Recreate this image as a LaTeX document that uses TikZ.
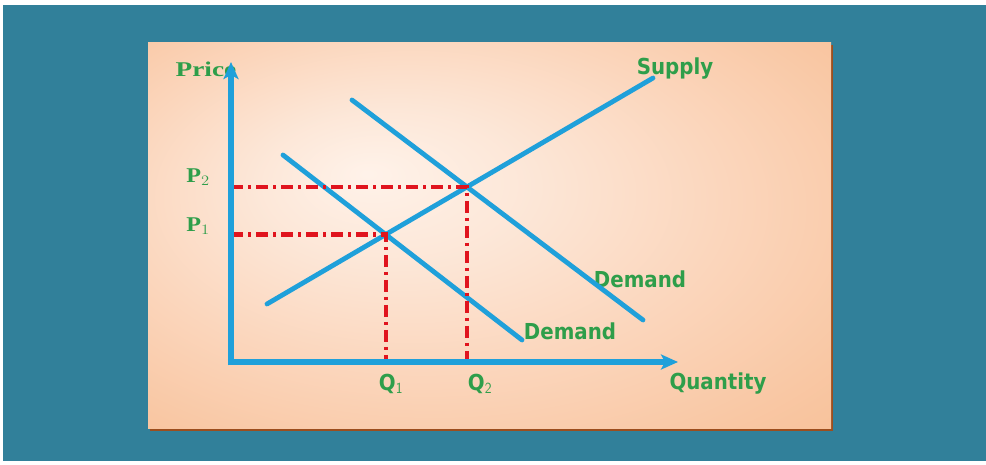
\documentclass[tikz,border=0pt]{standalone}
\usepackage{fontspec}
\usepackage{graphicx}
\usetikzlibrary{arrows.meta,intersections}
\newfontfamily\lblfont{DejaVu Sans}
\newfontfamily\serfont{Liberation Serif}
\definecolor{teal0}{HTML}{31809A}
\definecolor{brown0}{HTML}{9C4E1E}
\definecolor{axisblue}{HTML}{1FA0DA}
\definecolor{lblgreen}{HTML}{2E9E4A}
\definecolor{dashred}{HTML}{E0141E}
\pgfdeclareradialshading{panelshade}{\pgfpoint{-9bp}{8bp}}{%
  rgb(0bp)=(1,0.95,0.915);
  rgb(10bp)=(0.99,0.905,0.845);
  rgb(22bp)=(0.985,0.84,0.74);
  rgb(34bp)=(0.975,0.78,0.64);
  rgb(44bp)=(0.97,0.74,0.57);
  rgb(50bp)=(0.965,0.715,0.52)}
\tikzset{
  lbl/.style={text=lblgreen,font=\lblfont\bfseries\fontsize{22}{24}\selectfont,inner sep=0pt},
  serlbl/.style={text=lblgreen,font=\serfont\bfseries\fontsize{21}{23}\selectfont,inner sep=0pt},
  axisline/.style={draw=axisblue,line width=6.5pt,-{Stealth[length=17pt,width=15pt,inset=4pt]}},
  curve/.style={draw=axisblue,line width=4.8pt},
  guide/.style={draw=dashred,line width=4.3pt,dash pattern=on 12pt off 5pt on 3pt off 5pt}
}
\begin{document}
\begin{tikzpicture}[x=1pt,y=-1pt]
\useasboundingbox (0,0) rectangle (986,464);
\fill[white] (0,0) rectangle (986,464);
\fill[teal0] (3,5) rectangle (986,461);
\fill[brown0] (150,45) rectangle (833,431);
\shade[shading=panelshade] (148,42) rectangle (831,428);
% labels
\node[serlbl] (price) at (206,69) {\scalebox{1.3}[1]{Price}};
\node[serlbl] (p2) at (198,177) {\scalebox{1.15}[1]{P$_{2}$}};
\node[serlbl] (p1) at (198,226) {\scalebox{1.15}[1]{P$_{1}$}};
\node[lbl] (supplyL) at (675,69) {\scalebox{0.9}[1]{Supply}};
\node[lbl] (demand2L) at (640,279) {\scalebox{0.9}[1]{Demand}};
\node[lbl] (demand1L) at (570,331) {\scalebox{0.9}[1]{Demand}};
\node[lbl] (q1) at (391,384) {\scalebox{0.9}[1]{Q$_{\mathsf{1}}$}};
\node[lbl] (q2) at (480,384) {\scalebox{0.9}[1]{Q$_{\mathsf{2}}$}};
\node[lbl] (quantity) at (718,384) {\scalebox{0.9}[1]{Quantity}};
% axes
\coordinate (O) at (231,362);
\coordinate (ytop) at (231,62);
\coordinate (xend) at (678,362);
% curves
\coordinate (sA) at (267,304);
\coordinate (sB) at (653,78);
\coordinate (dA) at (283,155);
\coordinate (dB) at (522,340);
\coordinate (eA) at (352,100);
\coordinate (eB) at (643,320);
\draw[curve,name path=S,line cap=round] (sA) -- (sB);
\draw[curve,name path=D1,line cap=round] (dA) -- (dB);
\draw[curve,name path=D2,line cap=round] (eA) -- (eB);
\path[name intersections={of=S and D1,by=E1}];
\path[name intersections={of=S and D2,by=E2}];
\draw[guide] (O |- E1) -- (E1) -- (E1 |- O);
\draw[guide] (O |- E2) -- (E2) -- (E2 |- O);
\draw[axisline] ([yshift=-3.25pt]O) -- (ytop);
\draw[axisline] ([xshift=-3.25pt]O) -- (xend);
\end{tikzpicture}
\end{document}
